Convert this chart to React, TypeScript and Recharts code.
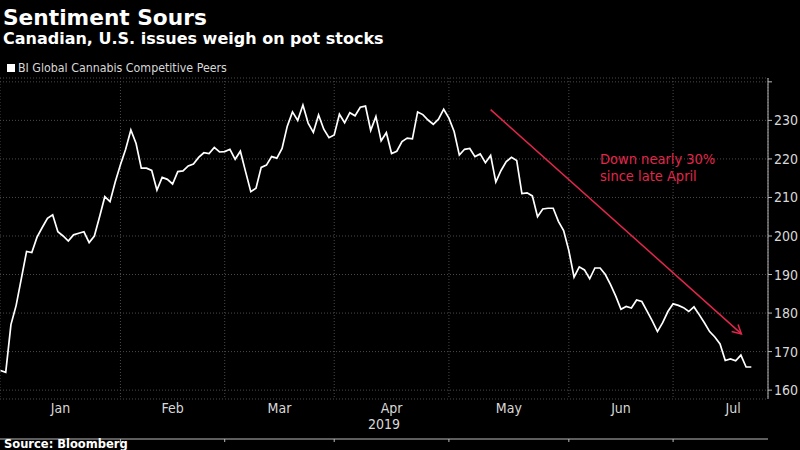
import React from "react";
import { LineChart, Line, XAxis, YAxis, CartesianGrid, ReferenceLine } from "recharts";

// BI Global Cannabis Competitive Peers, one value per weekday from Jan 1 2019
const values = [
  165.1, 164.6, 177.0, 182.0, 189.0, 196.0, 195.7, 199.7, 202.2, 204.6,
  205.5, 201.1, 200.0, 198.7, 200.3, 200.7, 201.1, 198.3, 200.0, 205.0,
  210.2, 208.9, 214.0, 218.5, 222.5, 227.5, 224.0, 217.6, 217.6, 217.0,
  211.9, 215.2, 214.7, 213.5, 216.7, 216.9, 218.2, 218.7, 220.4, 221.6,
  221.4, 223.0, 221.8, 221.9, 222.5, 219.9, 222.0, 216.7, 211.5, 212.4,
  217.8, 218.4, 220.6, 220.2, 222.7, 228.5, 232.2, 230.0, 234.0, 229.3,
  226.9, 231.4, 227.7, 225.5, 226.2, 231.6, 229.4, 232.0, 231.2, 233.4,
  233.7, 227.4, 231.0, 224.7, 226.8, 221.4, 222.0, 224.5, 225.4, 225.2,
  232.2, 231.5, 230.1, 229.0, 230.3, 232.9, 230.6, 227.1, 221.0, 222.5,
  222.7, 220.6, 221.3, 219.0, 220.9, 214.0, 217.0, 219.3, 220.4, 219.6,
  211.0, 211.2, 210.4, 205.0, 207.0, 207.2, 207.2, 203.8, 201.4, 196.2,
  189.3, 192.0, 191.2, 188.9, 191.7, 191.7, 190.0, 187.4, 184.4, 181.0,
  181.7, 181.3, 183.4, 183.0, 180.5, 178.0, 175.2, 177.5, 180.4, 182.4,
  182.0, 181.4, 180.4, 181.6, 179.6, 177.5, 175.2, 173.8, 172.0, 167.7,
  168.1, 167.6, 169.1, 166.0, 166.0,
];

// weekday index of each month start (Jan..Jul) and label positions
const monthStarts = [0, 23, 43, 64, 86, 109, 129];
const monthMids = [11.5, 33, 53.5, 75, 97.5, 119, 140.5];
const monthNames = ["Jan", "Feb", "Mar", "Apr", "May", "Jun", "Jul"];
const yTicks = [160, 170, 180, 190, 200, 210, 220, 230, 240];

// arrow annotation endpoints (weekday index, index level)
const arrowFrom = { x: 94, y: 232.8 };
const arrowTo = { x: 142.1, y: 174.6 };

const data = values.map((v, i) => ({ i, v }));

const FONT = "'DejaVu Sans Condensed', 'DejaVu Sans', sans-serif";
const BOLD = "'DejaVu Sans', sans-serif";
const RED = "#e3264c";
const X_DOMAIN: [number, number] = [-0.1, 147.2];

const YTick = (props: any) => {
  const { x, y, payload } = props;
  if (payload.value === 240) return <g />;
  return (
    <text x={x} y={y} dy="0.36em" fill="#d8d8d8" fontSize={14} fontFamily={FONT} style={{ fontStretch: "condensed" }} textAnchor="start">
      {payload.value}
    </text>
  );
};

const MonthTick = (props: any) => {
  const { x, y, payload } = props;
  const name = monthNames[monthMids.indexOf(payload.value)];
  return (
    <text x={x} y={y} dy="0.71em" fill="#d8d8d8" fontSize={14} fontFamily={FONT} style={{ fontStretch: "condensed" }} textAnchor="middle">
      {name}
    </text>
  );
};

const ArrowShape = (props: any) => {
  const { x1, y1, x2, y2 } = props;
  const ang = Math.atan2(y2 - y1, x2 - x1);
  const len = 10;
  const spread = 0.5;
  const ax = x2 - len * Math.cos(ang - spread);
  const ay = y2 - len * Math.sin(ang - spread);
  const bx = x2 - len * Math.cos(ang + spread);
  const by = y2 - len * Math.sin(ang + spread);
  return (
    <g stroke={RED} strokeWidth={1.5} fill="none">
      <line x1={x1} y1={y1} x2={x2} y2={y2} />
      <polyline points={`${ax},${ay} ${x2},${y2} ${bx},${by}`} />
    </g>
  );
};

export default function App() {
  return (
    <div style={{ position: "absolute", left: 0, top: 0, width: 800, height: 450, background: "#000" }}>
      <LineChart width={800} height={450} data={data} margin={{ top: 78, right: 0, bottom: 8, left: 0 }}>
        <CartesianGrid xAxisId="m" stroke="#4a4a4a" strokeDasharray="1 2" />
        <XAxis
          xAxisId="m"
          dataKey="i"
          type="number"
          domain={X_DOMAIN}
          ticks={monthStarts}
          height={3}
          tick={() => <g />}
          tickSize={3}
          tickLine={{ stroke: "#bbb" }}
          axisLine={{ stroke: "#bbb" }}
        />
        <XAxis
          xAxisId="lbl"
          dataKey="i"
          type="number"
          domain={X_DOMAIN}
          ticks={monthMids}
          height={40}
          tick={<MonthTick />}
          tickSize={0}
          tickMargin={4}
          tickLine={false}
          axisLine={false}
          label={{ value: "2019", position: "insideBottom", offset: 10, fill: "#d8d8d8", fontSize: 14, fontFamily: FONT }}
        />
        <YAxis
          orientation="right"
          domain={[157.7, 241]}
          ticks={yTicks}
          width={32}
          tick={<YTick />}
          tickSize={4}
          tickMargin={2}
          tickLine={{ stroke: "#bbb" }}
          axisLine={{ stroke: "#bbb" }}
        />
        <Line xAxisId="m" type="linear" dataKey="v" stroke="#ffffff" strokeWidth={1.7} dot={false} isAnimationActive={false} />
        <ReferenceLine xAxisId="m" segment={[arrowFrom, arrowTo]} shape={<ArrowShape />} />
      </LineChart>
      <svg width={800} height={450} style={{ position: "absolute", left: 0, top: 0, pointerEvents: "none" }}>
        <text x={3} y={25} fill="#fff" fontSize={21.7} fontWeight="bold" fontFamily={BOLD}>Sentiment Sours</text>
        <text x={3} y={43.5} fill="#fff" fontSize={16} fontWeight="bold" fontFamily={BOLD}>Canadian, U.S. issues weigh on pot stocks</text>
        <rect x={7} y={64} width={8} height={8} fill="#fff" />
        <text x={18} y={72} fill="#d8d8d8" fontSize={12.3} fontFamily={FONT} style={{ fontStretch: "condensed" }}>BI Global Cannabis Competitive Peers</text>
        <text x={600} y={164} fill={RED} fontSize={14.5} fontFamily={FONT} style={{ fontStretch: "condensed" }}>Down nearly 30%</text>
        <text x={600} y={181} fill={RED} fontSize={14.5} fontFamily={FONT} style={{ fontStretch: "condensed" }}>since late April</text>
        <text x={4} y={447.5} fill="#fff" fontSize={11.5} fontWeight="bold" fontFamily={BOLD}>Source: Bloomberg</text>
      </svg>
    </div>
  );
}
